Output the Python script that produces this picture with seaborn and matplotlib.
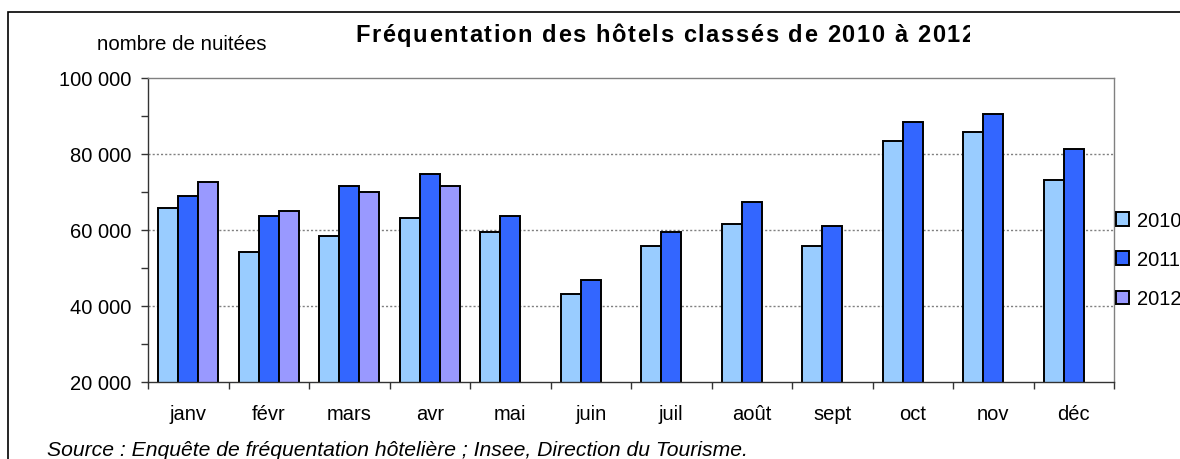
import numpy as np
import pandas as pd
import matplotlib
matplotlib.use("Agg")
import matplotlib.pyplot as plt
from matplotlib.patches import Patch, Rectangle
from matplotlib.ticker import MultipleLocator, FuncFormatter
from matplotlib.transforms import Bbox
import seaborn as sns

months = ["janv", "févr", "mars", "avr", "mai", "juin",
          "juil", "août", "sept", "oct", "nov", "déc"]
years = ["2010", "2011", "2012"]
nuitees_2010 = [65700, 54100, 58400, 63200, 59500, 43100,
                55850, 61650, 55850, 83300, 85900, 73250]
nuitees_2011 = [69000, 63700, 71500, 74800, 63700, 46900,
                59500, 67450, 61100, 88500, 90650, 81200]
nuitees_2012 = [72700, 64900, 70000, 71500]
colors = ["#99CCFF", "#3366FF", "#9999FF"]
title_txt = "Fréquentation des hôtels classés de 2010 à 2012"

rows = []
for year, vals in zip(years, [nuitees_2010, nuitees_2011, nuitees_2012]):
    for m, v in zip(months, vals):
        rows.append({"mois": m, "annee": year, "nuitees": v})
df = pd.DataFrame(rows)

sns.set_style("white")
plt.rcParams["font.family"] = ["Liberation Sans", "DejaVu Sans"]
plt.rcParams["text.color"] = "black"
plt.rcParams["xtick.color"] = "black"
plt.rcParams["ytick.color"] = "black"

W, H = 1180, 460
fig = plt.figure(figsize=(W / 100, H / 100), dpi=100)
ax = fig.add_axes([148 / W, 1 - 383 / H, (1114 - 148) / W, (383 - 79) / H])

sns.barplot(data=df, x="mois", y="nuitees", hue="annee", order=months,
            hue_order=years, palette=colors, width=0.74, edgecolor="black",
            linewidth=1.4, legend=False, ax=ax, saturation=1)

ax.set_ylim(20000, 100000)
ax.set_xlim(-0.5, 11.5)
ax.yaxis.set_major_locator(MultipleLocator(20000))
ax.yaxis.set_minor_locator(MultipleLocator(10000))
ax.yaxis.set_major_formatter(FuncFormatter(lambda v, p: f"{int(v):,}".replace(",", " ")))
ax.set_xlabel("")
ax.set_ylabel("")

for y in [40000, 60000, 80000]:
    ax.axhline(y, color="#808080", lw=1, ls=(0, (1.5, 1.5)), zorder=0)

for s in ["top", "right"]:
    ax.spines[s].set_color("#808080")
    ax.spines[s].set_linewidth(1)
for s in ["left", "bottom"]:
    ax.spines[s].set_color("#333333")
    ax.spines[s].set_linewidth(1)

ax.set_xticks(np.arange(-0.5, 12, 1), minor=True)
ax.tick_params(axis="x", which="major", length=0, labelsize=14.5, pad=16)
ax.tick_params(axis="x", which="minor", length=5, width=1, color="#333333",
               direction="out", bottom=True)
ax.tick_params(axis="y", which="both", length=5, width=1, color="#333333",
               direction="out", left=True, labelsize=14.5, pad=7)

fig.text(97 / W, 1 - 45 / H, "nombre de nuitées", fontsize=14.8, va="center", ha="left")

# titre lettre par lettre, espacé comme dans l'original, coupé à droite
renderer = fig.canvas.get_renderer()
def char_width(ch, **kw):
    a = fig.text(0, 0, "x" + ch + "x", **kw)
    b = fig.text(0, 0, "xx", **kw)
    w = a.get_window_extent(renderer).width - b.get_window_extent(renderer).width
    a.remove()
    b.remove()
    return w

tkw = dict(fontsize=17, fontweight="bold")
x = 355
clip = Bbox.from_extents(0, 0, 970, H)
for ch in title_txt:
    t = fig.text(x / W, 1 - 42 / H, ch, va="baseline", ha="left", **tkw)
    t.set_clip_box(clip)
    t.set_clip_on(True)
    x += char_width(ch, **tkw) + 1.6

fig.text(47 / W, 1 - 451 / H,
         "Source : Enquête de fréquentation hôtelière ; Insee, Direction du Tourisme.",
         fontsize=15.2, style="italic", va="center", ha="left")

handles = [Patch(facecolor=c, edgecolor="black", linewidth=1.4) for c in colors]
fig.legend(handles, years, loc="upper left", bbox_to_anchor=(1108 / W, 1 - 204 / H),
           frameon=False, fontsize=14.5, handlelength=0.65, handleheight=0.65,
           handletextpad=0.4, labelspacing=1.0, borderaxespad=0)

fig.patches.append(Rectangle((8 / W, -0.05), 1.1, 1 - 12.5 / H + 0.05,
                             transform=fig.transFigure, fill=False,
                             edgecolor="black", linewidth=1.2))

fig.savefig("out.png", dpi=100)
